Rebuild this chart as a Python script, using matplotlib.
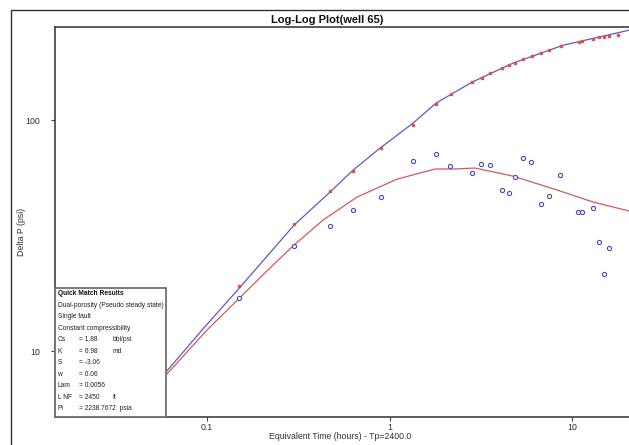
import matplotlib
matplotlib.use("Agg")
import matplotlib.pyplot as plt
from matplotlib.patches import Rectangle
from matplotlib.ticker import FixedLocator, FixedFormatter, NullLocator

plt.rcParams['font.family'] = ['Liberation Sans', 'DejaVu Sans']

# ---- data ----
p_time = [0.15, 0.30, 0.47, 0.63, 0.90, 1.35, 1.80, 2.17, 2.83, 3.21, 3.55, 4.13, 4.52,
          4.87, 5.39, 6.04, 6.76, 7.48, 8.70, 10.9, 11.3, 13.0, 14.1, 15.0, 15.9, 17.9]
p_delta = [19.1, 35.5, 49.3, 60.1, 75.6, 95.1, 117.3, 129.6, 146.0, 152.0, 159.8, 168.0, 173.0,
           176.5, 183.7, 189.3, 195.0, 201.0, 209.0, 218.0, 220.0, 224.0, 229.0, 229.0, 231.0, 233.0]

d_time = [0.15, 0.30, 0.47, 0.63, 0.90, 1.35, 1.80, 2.15, 2.83, 3.17, 3.55, 4.13, 4.52,
          4.87, 5.39, 5.96, 6.76, 7.48, 8.60, 10.8, 11.3, 13.0, 14.1, 15.0, 15.9]
d_deriv = [17.0, 28.5, 34.8, 40.8, 46.4, 66.4, 71.3, 63.2, 59.0, 64.5, 63.9, 49.8, 48.3,
           56.6, 68.5, 65.8, 43.3, 46.9, 57.8, 40.0, 40.0, 41.6, 29.7, 21.5, 27.9]

m_time = [0.04, 0.0596, 0.0939, 0.15, 0.30, 0.472, 0.631, 0.887, 1.345, 1.798, 2.83, 4.75, 8.93, 20.5]
m_delta = [5.6, 8.11, 12.33, 18.7, 35.1, 48.8, 60.7, 75.6, 97.0, 118.5, 146.0, 176.5, 211.0, 245.0]

md_time = [0.04, 0.0596, 0.10, 0.2214, 0.296, 0.432, 0.663, 1.099, 1.775, 2.256, 2.94, 4.75, 8.28, 13.0, 20.5]
md_deriv = [5.3, 7.87, 12.33, 22.9, 28.5, 36.9, 46.4, 55.5, 61.4, 61.4, 62.0, 57.2, 49.8, 44.2, 40.4]

x_ticks = [0.1, 1, 10]
x_tick_labels = ["0.1", "1", "10"]
y_ticks = [10, 100]
y_tick_labels = ["10", "100"]

box_lines = ["Dual-porosity (Pseudo steady state)", "Single fault", "Constant compressibility"]
param_names = ["Cs", "K", "S", "w", "Lam", "L NF", "Pi"]
param_values = ["= 1.88", "= 6.98", "= -3.06", "= 0.06", "= 0.0056", "= 2450", "= 2238.7672  psia"]
param_units = ["bbl/psi", "md", "", "", "", "ft", ""]

# ---- figure ----
W, H = 629, 445
fig = plt.figure(figsize=(W / 100, H / 100), dpi=100)
fig.patch.set_facecolor("white")

# outer frame
fig.add_artist(Rectangle((10.5 / W, -0.1), 1.2, (H - 10.5) / H + 0.1, transform=fig.transFigure,
                         fill=False, edgecolor="#303030", linewidth=1.0))

ax_l, ax_r, ax_t, ax_b = 55, 629, 27, 417
ax = fig.add_axes([ax_l / W, (H - ax_b) / H, (ax_r - ax_l) / W, (ax_b - ax_t) / H])
ax.set_xscale("log")
ax.set_yscale("log")
ax.set_xlim(0.0147, 20.5)
ax.set_ylim(5.18, 253)

ax.plot(m_time, m_delta, color="#5a5ac8", lw=0.9, zorder=2)
ax.plot(md_time, md_deriv, color="#d25a5a", lw=0.9, zorder=2)
ax.plot(p_time, p_delta, linestyle="none", marker="s", ms=2.0, mfc="#e05050", mec="#e05050", zorder=3)
ax.plot(d_time, d_deriv, linestyle="none", marker="o", ms=3.0, mfc="white", mec="#4848c0", mew=0.8, zorder=3)

ax.xaxis.set_major_locator(FixedLocator(x_ticks))
ax.xaxis.set_major_formatter(FixedFormatter(x_tick_labels))
ax.yaxis.set_major_locator(FixedLocator(y_ticks))
ax.yaxis.set_major_formatter(FixedFormatter(y_tick_labels))
ax.xaxis.set_minor_locator(NullLocator())
ax.yaxis.set_minor_locator(NullLocator())
ax.tick_params(axis="both", direction="out", length=3, width=0.8, color="#404040",
               labelsize=6.3, labelcolor="#303030")
ax.tick_params(axis="y", pad=8)
ax.tick_params(axis="x", pad=1.5)
for s in ["left", "bottom", "top"]:
    ax.spines[s].set_color("#404040")
    ax.spines[s].set_linewidth(1.2)
ax.spines["right"].set_visible(False)

fig.text(327 / W, 1 - 20 / H, "Log-Log Plot(well 65)", ha="center", va="center",
         fontsize=8, fontweight="bold", color="#101010")
fig.text(340 / W, 1 - 436.5 / H, "Equivalent Time (hours) - Tp=2400.0", ha="center", va="center",
         fontsize=6.3, color="#303030")
fig.text(22 / W, 1 - 232 / H, "Delta P (psi)", ha="center", va="center", rotation=90,
         fontsize=6.3, color="#303030")

# quick match box
bx0, bx1, by0, by1 = 55, 166, 288, 417
fig.add_artist(Rectangle((bx0 / W, (H - by1) / H), (bx1 - bx0) / W, (by1 - by0) / H,
                         transform=fig.transFigure, facecolor="white", edgecolor="#707070",
                         linewidth=1.3, zorder=5))
fs = 4.8
row0, dy = 293.5, 11.55
fig.text(57.5 / W, 1 - row0 / H, "Quick Match Results", ha="left", va="center",
         fontsize=fs, fontweight="bold", color="#101010", zorder=6)
for i, t in enumerate(box_lines):
    fig.text(57.5 / W, 1 - (row0 + (i + 1) * dy) / H, t, ha="left", va="center",
             fontsize=fs, color="#202020", zorder=6)
for j, (n, v, u) in enumerate(zip(param_names, param_values, param_units)):
    yy = 1 - (row0 + (j + 4) * dy) / H
    fig.text(57.5 / W, yy, n, ha="left", va="center", fontsize=fs, color="#202020", zorder=6)
    fig.text(79 / W, yy, v, ha="left", va="center", fontsize=fs, color="#202020", zorder=6)
    if u:
        fig.text(113 / W, yy, u, ha="left", va="center", fontsize=fs, color="#202020", zorder=6)

fig.savefig("out.png", dpi=100)
